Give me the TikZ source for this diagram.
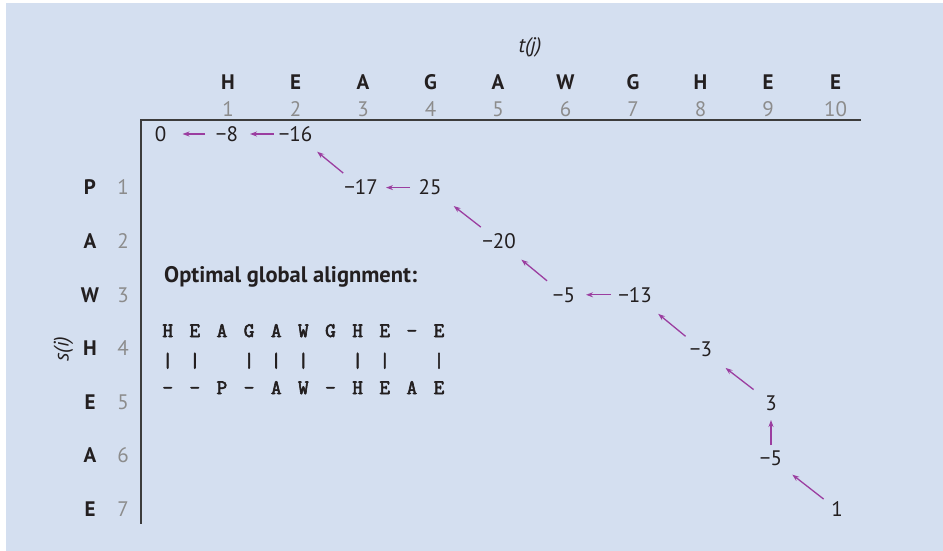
\documentclass[tikz,border=0pt]{standalone}
\usepackage{fontspec}
\setmainfont{PT Sans}
\newfontfamily\alnfont[FakeBold=3]{Latin Modern Mono}
\usetikzlibrary{arrows.meta}
\definecolor{bg}{RGB}{212,223,240}
\definecolor{ink}{RGB}{35,31,32}
\definecolor{graynum}{RGB}{140,140,140}
\definecolor{arrcol}{RGB}{155,62,160}
\definecolor{axiscol}{RGB}{60,60,60}
\begin{document}
\begin{tikzpicture}[x=1pt,y=-1pt,
  base/.style={inner sep=0pt, text depth=0pt, text height=14.5pt, font=\fontsize{21}{24}\selectfont},
  cell/.style={base, text=ink},
  hdr/.style={base, text=ink, font=\fontsize{21}{24}\selectfont\bfseries},
  num/.style={base, text=graynum},
  aln/.style={inner sep=0pt, text depth=0pt, text height=12pt, text=ink, font=\alnfont\fontsize{20.5}{22}\selectfont},
  axis/.style={draw=axiscol, line width=1.4pt},
  arr/.style={draw=arrcol, line width=1.3pt, -{Stealth[length=7pt,width=5pt]}}
]
\useasboundingbox (0,0) rectangle (943,551);
\fill[white] (0,0) rectangle (943,551);
\fill[bg] (6,3) rectangle (943,551);

% axis labels
\node[base, text=ink, font=\fontsize{21}{24}\selectfont\itshape, text height=11pt] (tj) at (530,47) {t(j)};
\node[base, text=ink, font=\fontsize{21}{24}\selectfont\itshape, text height=11pt, rotate=90] (si) at (63,349) {s(i)};

% column headers
\foreach \l [count=\j] in {H,E,A,G,A,W,G,H,E,E} {
  \node[hdr] (h\j) at ({228+67.5*(\j-1)},82) {\l};
  \node[num] (n\j) at ({228+67.5*(\j-1)},109.5) {\j};
}
% row headers
\foreach \l [count=\i] in {P,A,W,H,E,A,E} {
  \node[hdr] (r\i) at (90,{134+53.6*\i}) {\l};
  \node[num] (m\i) at (123,{134+53.6*\i}) {\i};
}

% axes
\coordinate (corner) at (141,120);
\coordinate (hend) at (861,120);
\coordinate (vend) at (141,524);
\draw[axis] (hend) -- (corner) -- (vend);

% cells
\node[cell] (c00) at (160.5,134) {0};
\node[cell] (c01) at (227,134) {−8};
\node[cell] (c02) at (295.5,134) {−16};
\node[cell] (c13) at (361,187.6) {−17};
\node[cell] (c14) at (430,187.6) {25};
\node[cell] (c25) at (499,241.2) {−20};
\node[cell] (c36) at (564,294.8) {−5};
\node[cell] (c37) at (635,294.8) {−13};
\node[cell] (c48) at (701,349) {−3};
\node[cell] (c59) at (771,403) {3};
\node[cell] (c69) at (771,458) {−5};
\node[cell] (c710) at (837,509.5) {1};

% traceback arrows
\draw[arr, shorten <=22pt, shorten >=22pt] (c01.center) -- (c00.center);
\draw[arr, shorten <=22pt, shorten >=23pt] (c02.center) -- (c01.center);
\draw[arr, shorten <=23pt, shorten >=28pt] (c13.center) -- (c02.center);
\draw[arr, shorten <=20pt, shorten >=25pt] (c14.center) -- (c13.center);
\draw[arr, shorten <=23pt, shorten >=30pt] (c25.center) -- (c14.center);
\draw[arr, shorten <=22pt, shorten >=29pt] (c36.center) -- (c25.center);
\draw[arr, shorten <=24pt, shorten >=22pt] (c37.center) -- (c36.center);
\draw[arr, shorten <=20pt, shorten >=30pt] (c48.center) -- (c37.center);
\draw[arr, shorten <=22pt, shorten >=31pt] (c59.center) -- (c48.center);
\draw[arr, shorten <=13pt, shorten >=17pt] (c69.center) -- (c59.center);
\draw[arr, shorten <=17pt, shorten >=27pt] (c710.center) -- (c69.center);

% alignment
\node[anchor=west, inner sep=0pt, text=ink, font=\fontsize{22.5}{26}\selectfont\bfseries] (title) at (164,277) {Optimal global alignment:};
\foreach \c [count=\k from 0] in {H,E,A,G,A,W,G,H,E,–,E}
  \node[aln] (ta\k) at ({167.7+27.13*\k},331) {\c};
\foreach \k in {0,1,3,4,5,7,8,10}
  \node[aln, text height=12pt] (ba\k) at ({167.7+27.13*\k},361) {|};
\foreach \c [count=\k from 0] in {–,–,P,–,A,W,–,H,E,A,E}
  \node[aln] (sa\k) at ({167.7+27.13*\k},388) {\c};
\end{tikzpicture}
\end{document}
